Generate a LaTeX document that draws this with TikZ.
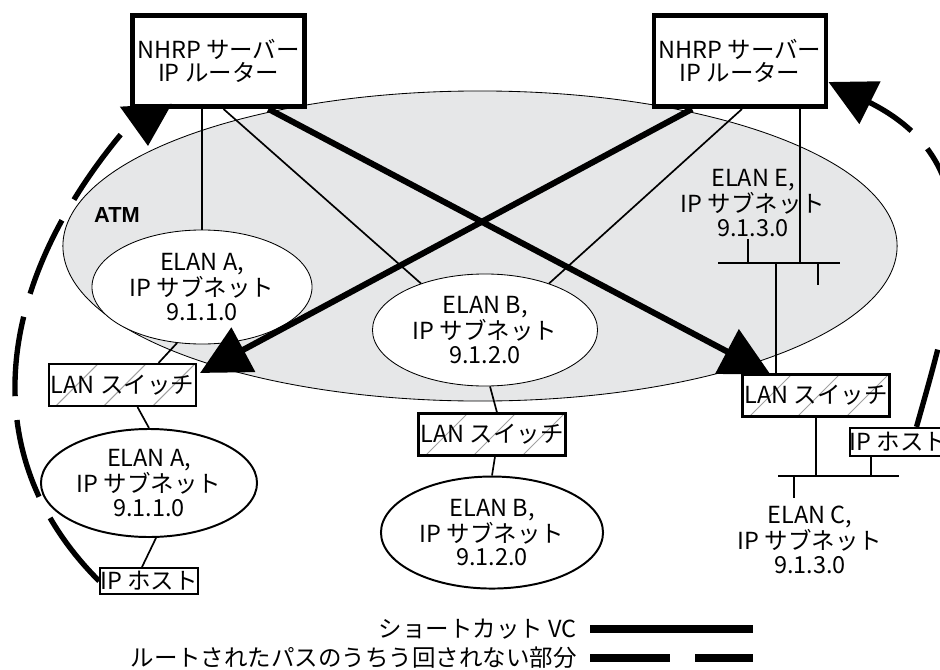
\documentclass[tikz,border=0pt]{standalone}
\usepackage{fontspec}
\setmainfont{Noto Sans CJK JP}
\newfontfamily\atmfont{Liberation Sans}
\usetikzlibrary{shapes.geometric, arrows.meta, positioning, calc}
\definecolor{atmgray}{RGB}{230,231,232}
\definecolor{hatchgray}{RGB}{160,160,160}

\begin{document}
\begin{tikzpicture}[x=0.025cm, y=-0.025cm,
  every node/.style={font=\fontsize{16.7pt}{16.6pt}\selectfont},
  router/.style={draw, line width=3.4pt, fill=white, align=center, minimum width=4.2cm, minimum height=2.28cm},
  atmcloud/.style={ellipse, draw, line width=0.6pt, fill=atmgray, inner sep=0pt, minimum width=20.85cm, minimum height=7.75cm},
  elan/.style={ellipse, draw, line width=0.6pt, fill=white, inner sep=0pt, align=center, minimum width=5.5cm, minimum height=2.85cm},
  subnet/.style={ellipse, draw, line width=1.4pt, fill=white, inner sep=0pt, align=center, minimum width=5.4cm, minimum height=2.7cm},
  hatch/.style={draw=hatchgray, line width=0.75pt},
  lanbox/.style={draw, line width=1.6pt, fill=white, inner sep=0pt, minimum width=3.67cm, minimum height=1.045cm,
    path picture={\foreach \k in {7,55,104}
      \draw[hatch] ([xshift=\k*0.025cm]path picture bounding box.south west) -- ++(45,-45);}},
  hostbox/.style={draw, line width=1.6pt, fill=white, inner sep=0pt, minimum width=2.37cm, minimum height=0.645cm},
  netlabel/.style={align=center, inner sep=0pt},
  legend/.style={anchor=east, inner sep=0pt},
  link/.style={line width=1.2pt},
  bus/.style={line width=1.4pt},
  shortcut/.style={line width=4.3pt, -{Triangle[length=35pt, width=35pt]}},
  routed/.style={line width=3.8pt, dash pattern=on 57pt off 17pt},
  routedtip/.style={-{Triangle[length=33pt, width=33pt]}},
  routedhead/.style={line width=3.8pt, -{Triangle[length=29pt, width=36pt]}}]
\useasboundingbox (0,0) rectangle (940,670);
\clip (0,0) rectangle (940,670);
% ATM network
\node[atmcloud] (atm) at (480,246) {};
\node[font=\atmfont\fontsize{15.5pt}{15.5pt}\selectfont\bfseries] (atmlabel) at (117,215) {ATM};
% Routers
\node[router] (lrouter) at (218.5,61) {NHRP サーバー\\IP ルーター};
\node[router] (rrouter) at (740,61) {NHRP サーバー\\IP ルーター};
% ELANs inside ATM
\node[elan] (elanA) at (202,287) {ELAN A,\\IP サブネット\\9.1.1.0};
\node[elan, minimum width=5.625cm, minimum height=2.8cm] (elanB) at (485,330) {ELAN B,\\IP サブネット\\9.1.2.0};
\node[netlabel] (elanE) at (753,203) {ELAN E,\\IP サブネット\\9.1.3.0};
% LAN switches
\node[lanbox] (lswitch) at (122.5,385) {LAN スイッチ};
\node[lanbox] (mswitch) at (492,434.5) {LAN スイッチ};
\node[lanbox] (rswitch) at (816,395.5) {LAN スイッチ};
% Subnets and hosts
\node[subnet] (lelanA) at (149,483) {ELAN A,\\IP サブネット\\9.1.1.0};
\node[subnet, minimum width=5.55cm, minimum height=2.8cm, below=0.475cm of mswitch] (lelanB) {ELAN B,\\IP サブネット\\9.1.2.0};
\node[hostbox, below=0.725cm of lelanA] (lhost) {IP ホスト};
\node[hostbox, minimum height=0.7cm] (rhost) at (898.5,442) {IP ホスト};
\node[netlabel] (elanC) at (810,540) {ELAN C,\\IP サブネット\\9.1.3.0};
% Buses
\coordinate (ebusL) at (718,263);
\coordinate (ebusR) at (840,263);
\coordinate (etap) at (800,263);
\coordinate (eup) at (776,263);
\coordinate (cbusL) at (778,476);
\coordinate (cbusR) at (899,476);
\coordinate (ctap) at (871,476);
\draw[bus] (ebusL) -- (ebusR) (748,263) -- ++(0,-24) (818,263) -- ++(0,22);
\draw[bus] (cbusL) -- (cbusR) (794,476) -- ++(0,22);
% Links
\draw[link] (elanA.north |- lrouter.south) -- (elanA.north);
\draw[link] ($(lrouter.south)+(5,0)$) -- (elanB.144);
\draw[link] ($(rrouter.south)+(2,0)$) -- (elanB.36);
\draw[link] (rrouter.south -| etap) -- (etap);
\draw[link] (eup) -- (eup |- rswitch.north);
\draw[link] (elanA.246) -- ($(lswitch.north)+(36,0)$);
\draw[link] ($(lswitch.south)+(15,0)$) -- (lelanA.north);
\draw[link] ($(lelanA.south)+(7,0)$) -- ($(lhost.north)+(-7,0)$);
\draw[link] ($(elanB.south)+(5,0)$) -- ($(mswitch.north)+(5,0)$);
\draw[link] ($(mswitch.south)+(3,0)$) -- (lelanB.north);
\draw[link] (rswitch.south) -- (rswitch.south |- cbusL);
\draw[link] (ctap) -- (ctap |- rhost.south);
% Shortcut VCs
\draw[shortcut] ($(lrouter.south)+(50,0)$) -- ($(rswitch.north west)+(29,1)$);
\draw[shortcut] ($(rrouter.south)+(-48,0)$) -- ($(lswitch.north east)+(3,10)$);
% Routed paths
\coordinate (larcend) at (122,133);
\coordinate (lrtip) at (148,146);
\draw[routed] (lhost.west) .. controls (-26,456) and (-6,287) .. (larcend);
\draw[routedhead] ($(lrouter.south west)+(16,0)$) -- (lrtip);
\draw[routed, routedtip] ($(rhost.north)+(18,0)$) .. controls (955,290) and (995,165) .. ($(rrouter.east)+(0,21)$);
% Legend
\node[legend] (lgvc) at (577,629) {ショートカット VC};
\node[legend] (lgroute) at (577,658) {ルートされたパスのうちう回されない部分};
\draw[line width=5.7pt] ($(lgvc.east)+(13,0)$) -- ++(163,0);
\draw[line width=5.7pt, dash pattern=on 57pt off 17.8pt] ($(lgroute.east)+(13,0)$) -- ++(163,0);
\end{tikzpicture}
\end{document}
